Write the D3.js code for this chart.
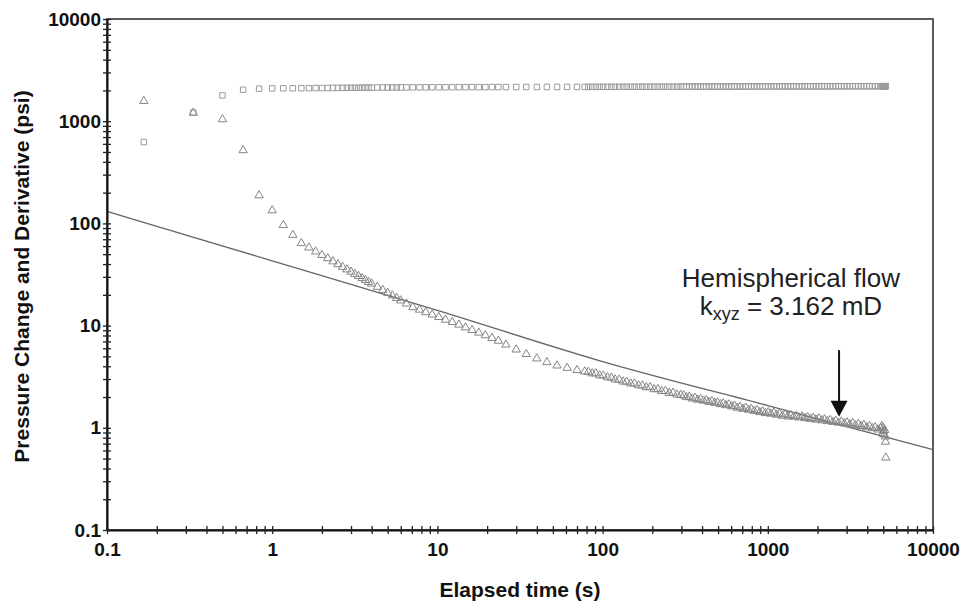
<!DOCTYPE html>
<html><head><meta charset="utf-8">
<script src="https://cdn.jsdelivr.net/npm/d3@7"></script>
<style>body{margin:0;background:#fff}svg{display:block}</style>
</head><body>
<svg id="chart" width="968" height="606"></svg>
<script>
// ---- data ----
const times = [
  0.167, 0.333, 0.5, 0.667, 0.833, 1.0, 1.167, 1.333, 1.5,
  1.667, 1.833, 2.0, 2.167, 2.333, 2.5, 2.667, 2.833, 3.0, 3.167, 3.333, 3.5, 3.667, 3.833, 4.0, 4.333, 4.667, 5.0, 5.333, 5.667, 6.0,
  6.5, 7.1, 7.8, 8.5, 9.3, 10.2, 11.2, 12.3, 13.5, 14.8, 16.2, 17.8, 19.5, 21.4, 23.4,
  26, 30, 34.5, 40, 46, 53, 61, 70, 78,
  82, 86.5, 91, 96, 101, 107, 113, 119, 126, 133, 140, 148, 156, 165, 174, 184, 194, 205, 216, 228, 240, 253, 267, 282, 297,
  310, 322, 335, 349, 363, 377, 392, 408, 424, 441, 459, 477, 496, 516, 537, 558, 581, 604, 628, 653,
  679, 706, 735, 764, 795, 827, 860, 894, 930, 967, 1006, 1046, 1088, 1131, 1177, 1224, 1273, 1324, 1376, 1431,
  1489, 1548, 1610, 1675, 1742, 1811, 1884, 1959, 2037, 2119, 2204, 2292, 2383, 2479, 2578, 2681, 2788, 2900, 3016, 3136,
  3262, 3392, 3528, 3669, 3816, 3968, 4127, 4292, 4464, 4642, 4828, 4900, 4950, 5000, 5021, 5050, 5100, 5150, 5160, 5180
];
const pressureChange = [
  625, 1211, 1787, 2032, 2080, 2094, 2100, 2100, 2105,
  2105, 2110, 2110, 2115, 2115, 2120, 2120, 2120, 2125, 2125, 2125, 2130, 2130, 2130, 2130, 2135, 2135, 2135, 2140, 2140, 2140,
  2142, 2143, 2145, 2146, 2147, 2148, 2150, 2151, 2152, 2153, 2154, 2155, 2156, 2157, 2158,
  2159, 2160, 2161, 2162, 2163, 2164, 2165, 2166, 2166,
  2167, 2167, 2168, 2168, 2169, 2169, 2170, 2170, 2171, 2171, 2172, 2172, 2173, 2173, 2174, 2174, 2175, 2175, 2176, 2176, 2177, 2177, 2178, 2178, 2179,
  2180, 2180, 2180, 2181, 2181, 2181, 2182, 2182, 2182, 2183, 2183, 2183, 2184, 2184, 2184, 2185, 2185, 2185, 2186, 2186,
  2186, 2187, 2187, 2187, 2188, 2188, 2188, 2189, 2189, 2189, 2190, 2190, 2190, 2190, 2191, 2191, 2191, 2191, 2192, 2192,
  2192, 2192, 2193, 2193, 2193, 2193, 2194, 2194, 2194, 2194, 2195, 2195, 2195, 2195, 2195, 2196, 2196, 2196, 2196, 2196,
  2197, 2197, 2197, 2197, 2197, 2198, 2198, 2198, 2198, 2198, 2199, 2199, 2199, 2199, 2199, 2200, 2200, 2200, 2200, 2200
];
const derivative = [
  1574, 1211, 1043, 519, 188, 134, 96, 77, 64,
  58, 53, 49, 45.5, 42.4, 39.8, 37.5, 35.4, 33.6, 31.9, 30.5, 29.1, 27.9, 26.7, 25.7, 23.9, 22.3, 20.9, 19.7, 18.6, 17.6,
  16.4, 15.1, 14.3, 13.5, 12.8, 12.1, 11.4, 10.8, 10.2, 9.58, 9.04, 8.52, 8.03, 7.55, 7.10,
  6.51, 5.82, 5.26, 4.76, 4.38, 4.06, 3.85, 3.66, 3.55,
  3.52, 3.40, 3.40, 3.25, 3.24, 3.11, 3.09, 2.96, 2.95, 2.83, 2.82, 2.71, 2.71, 2.60, 2.59, 2.49, 2.49, 2.38, 2.38, 2.28, 2.29, 2.19, 2.20, 2.11, 2.09,
  2.07, 1.99, 2.01, 1.93, 1.96, 1.88, 1.91, 1.84, 1.86, 1.79, 1.82, 1.75, 1.77, 1.70, 1.73, 1.66, 1.69, 1.62, 1.64, 1.57,
  1.60, 1.53, 1.57, 1.50, 1.53, 1.46, 1.49, 1.42, 1.45, 1.39, 1.42, 1.37, 1.40, 1.34, 1.37, 1.31, 1.35, 1.29, 1.33, 1.28,
  1.31, 1.26, 1.29, 1.24, 1.27, 1.22, 1.25, 1.20, 1.23, 1.18, 1.21, 1.16, 1.19, 1.14, 1.17, 1.12, 1.15, 1.10, 1.13, 1.08,
  1.11, 1.06, 1.09, 1.04, 1.07, 1.01, 1.04, 0.99, 1.01, 0.96, 0.99, 1.04, 0.88, 1.00, 0.93, 0.86, 0.95, 0.82, 0.73, 0.51
];
// hemispherical-flow model line
const modelTimes = [0.1, 1, 10, 100, 1000, 10000];
const modelValues = [131, 43, 14.1, 4.45, 1.65, 0.612];

const xTickValues = [0.1, 1, 10, 100, 1000, 10000];
const xTickLabels = ["0.1", "1", "10", "100", "1000", "10000"];
const yTickValues = [0.1, 1, 10, 100, 1000, 10000];
const yTickLabels = ["0.1", "1", "10", "100", "1000", "10000"];
const xTitle = "Elapsed time (s)";
const yTitle = "Pressure Change and Derivative (psi)";
const noteLine1 = "Hemispherical flow";
const noteK = "k", noteSub = "xyz", noteRest = " = 3.162 mD";
const arrowTime = 2700, arrowFrom = 5.75, arrowTo = 1.28;
const noteTime = 1380, noteValue1 = 23.7, noteValue2 = 12.6;

// ---- layout ----
const svg = d3.select("#chart");
const pL = 107, pR = 933, pT = 19, pB = 530;
const x = d3.scaleLog().domain([0.1, 10000]).range([pL, pR]);
const y = d3.scaleLog().domain([0.1, 10000]).range([pB, pT]);

function minorTicks(domain) {
  const out = [];
  for (let d = domain[0]; d < domain[1] * 0.999; d *= 10)
    for (let m = 1; m <= 9; m++) out.push(+(d * m).toPrecision(3));
  out.push(domain[1]);
  return out;
}
const xAll = minorTicks([0.1, 10000]);
const yAll = minorTicks([0.1, 10000]);
const fmtX = v => { const i = xTickValues.findIndex(t => Math.abs(t - v) / t < 1e-6); return i >= 0 ? xTickLabels[i] : ""; };
const fmtY = v => { const i = yTickValues.findIndex(t => Math.abs(t - v) / t < 1e-6); return i >= 0 ? yTickLabels[i] : ""; };

// frame (top and right)
svg.append("rect").attr("x", pL).attr("y", pT).attr("width", pR - pL).attr("height", pB - pT)
  .attr("fill", "none").attr("stroke", "#333").attr("stroke-width", 1.6);

// model line
const pts = modelTimes.map((t, i) => [t, modelValues[i]]);
svg.append("path").attr("d", d3.line().curve(d3.curveMonotoneX).x(d => x(d[0])).y(d => y(d[1]))(pts))
  .attr("fill", "none").attr("stroke", "#666").attr("stroke-width", 1.3);

// squares (pressure change)
const sq = d3.symbol().type(d3.symbolSquare).size(30);
svg.append("g").selectAll("path").data(times).join("path")
  .attr("d", sq).attr("transform", (t, i) => `translate(${x(t)},${y(pressureChange[i])})`)
  .attr("fill", "none").attr("stroke", "#9a9a9a").attr("stroke-width", 1);

// triangles (derivative)
const tri = d3.symbol().type(d3.symbolTriangle).size(30);
svg.append("g").selectAll("path").data(times).join("path")
  .attr("d", tri).attr("transform", (t, i) => `translate(${x(t)},${y(derivative[i])})`)
  .attr("fill", "none").attr("stroke", "#858585").attr("stroke-width", 1);

// axes
const font = "'Liberation Sans', Arial, Helvetica, sans-serif";
const gx = svg.append("g").attr("transform", `translate(0,${pB})`)
  .call(d3.axisBottom(x).tickValues(xAll).tickFormat(fmtX).tickSizeInner(4).tickSizeOuter(0).tickPadding(9));
const gy = svg.append("g").attr("transform", `translate(${pL},0)`)
  .call(d3.axisLeft(y).tickValues(yAll).tickFormat(fmtY).tickSizeInner(4).tickSizeOuter(0).tickPadding(2));
gx.selectAll(".tick line").attr("y1", -4).attr("stroke", "#222").attr("stroke-width", 1.3);
gy.selectAll(".tick line").attr("x1", 4).attr("stroke", "#222").attr("stroke-width", 1.3);
[gx, gy].forEach(g => {
  g.select(".domain").attr("stroke", "#111").attr("stroke-width", 2);
  g.selectAll("text").attr("font-family", font).attr("font-weight", "bold").attr("font-size", 19).attr("fill", "#111");
});

// titles
svg.append("text").attr("x", (pL + pR) / 2).attr("y", 597).attr("text-anchor", "middle")
  .attr("font-family", font).attr("font-weight", "bold").attr("font-size", 21).attr("fill", "#111").text(xTitle);
svg.append("text").attr("transform", `translate(29,${(pT + pB) / 2 + 2}) rotate(-90)`).attr("text-anchor", "middle")
  .attr("font-family", font).attr("font-weight", "bold").attr("font-size", 21).attr("fill", "#111").text(yTitle);

// annotation
svg.append("text").attr("x", x(noteTime)).attr("y", y(noteValue1)).attr("text-anchor", "middle")
  .attr("font-family", font).attr("font-size", 26).attr("fill", "#222").text(noteLine1);
const t2 = svg.append("text").attr("x", x(noteTime)).attr("y", y(noteValue2)).attr("text-anchor", "middle")
  .attr("font-family", font).attr("font-size", 26).attr("fill", "#222");
t2.append("tspan").text(noteK);
t2.append("tspan").attr("font-size", 18).attr("dy", 5).text(noteSub);
t2.append("tspan").attr("dy", -5).text(noteRest);

// arrow
const ax = x(arrowTime), ay0 = y(arrowFrom), ay1 = y(arrowTo);
svg.append("line").attr("x1", ax).attr("x2", ax).attr("y1", ay0).attr("y2", ay1 - 14)
  .attr("stroke", "#111").attr("stroke-width", 2);
svg.append("path").attr("d", `M${ax - 8.5},${ay1 - 16}L${ax + 8.5},${ay1 - 16}L${ax},${ay1}Z`).attr("fill", "#111");
</script>
</body></html>
